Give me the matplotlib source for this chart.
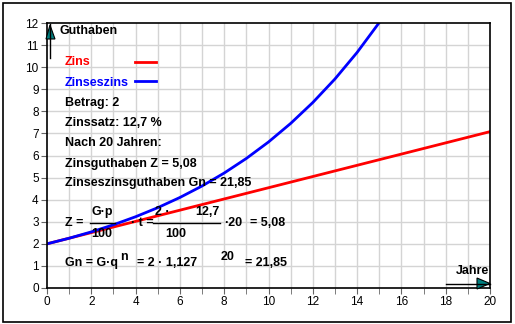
import matplotlib
matplotlib.use("Agg")
import matplotlib.pyplot as plt
from matplotlib.patches import Polygon, Rectangle
from matplotlib.lines import Line2D

# Zinsrechnung: Betrag 2, Zinssatz 12,7 %
jahre = [0, 1, 2, 3, 4, 5, 6, 7, 8, 9, 10, 11, 12, 13, 14, 15, 16, 17, 18, 19, 20]
zins = [2.0, 2.254, 2.508, 2.762, 3.016, 3.27, 3.524, 3.778, 4.032, 4.286, 4.54,
        4.794, 5.048, 5.302, 5.556, 5.81, 6.064, 6.318, 6.572, 6.826, 7.08]
jahre_zz = [0, 1, 2, 3, 4, 5, 6, 7, 8, 9, 10, 11, 12, 13, 14, 15]
zinseszins = [2.0, 2.254, 2.540, 2.863, 3.227, 3.637, 4.099, 4.619, 5.206, 5.867,
              6.612, 7.452, 8.399, 9.465, 10.667, 12.02]

W, H = 515, 324
fig = plt.figure(figsize=(W / 100, H / 100), dpi=100)
fig.patch.set_facecolor("white")


def p(x, y):
    return (x / W, 1 - y / H)


# outer frame
fig.add_artist(Rectangle(p(2.5, 321.5), 508 / W, 319 / H, fill=False,
                         edgecolor="black", lw=1.2, transform=fig.transFigure))

ax = fig.add_axes([47 / W, 36 / H, 443 / W, 265 / H])
ax.set_xlim(0, 20)
ax.set_ylim(0, 12)
ax.set_xticks(range(0, 21, 2))
ax.set_xticks(range(0, 21), minor=True)
ax.set_yticks(range(0, 13))
for v in range(1, 20):
    ax.axvline(v, color="#d4d4d4", lw=1, zorder=0)
for v in range(1, 12):
    ax.axhline(v, color="#d4d4d4", lw=1, zorder=0)
for s in ax.spines.values():
    s.set_color("black")
    s.set_linewidth(1.2)
ax.tick_params(which="both", length=4, color="#666666", labelsize=8.5, pad=2)
for lab in ax.get_xticklabels() + ax.get_yticklabels():
    lab.set_family("Liberation Sans")

ax.plot(jahre, zins, color="red", lw=2, clip_on=True)
ax.plot(jahre_zz, zinseszins, color="blue", lw=2, clip_on=True)

# axis arrows
teal = "#008080"
fig.add_artist(Line2D([49.5 / W, 49.5 / W], [p(0, 58)[1], p(0, 24)[1]],
                      color="black", lw=1, transform=fig.transFigure))
fig.add_artist(Polygon([p(46, 39), p(55, 39), p(50, 25)], closed=True,
                       facecolor=teal, edgecolor="black", lw=0.8,
                       transform=fig.transFigure))
fig.add_artist(Line2D([446 / W, 490 / W], [p(0, 283.5)[1]] * 2,
                      color="black", lw=1, transform=fig.transFigure))
fig.add_artist(Polygon([p(477, 278), p(477, 289), p(490, 283.5)], closed=True,
                       facecolor=teal, edgecolor="black", lw=0.8,
                       transform=fig.transFigure))

bold = dict(family="Liberation Sans", fontsize=9, fontweight="bold",
            va="center", transform=fig.transFigure)


def t(x, y, s, **kw):
    opts = dict(bold)
    opts.update(kw)
    fig.text(*p(x, y), s, **opts)


t(60, 31, "Guthaben")
t(456, 271, "Jahre")

t(65, 62, "Zins", color="red")
fig.add_artist(Line2D([135 / W, 156 / W], [p(0, 62)[1]] * 2, color="red",
                      lw=2, transform=fig.transFigure))
t(65, 83, "Zinseszins", color="blue")
fig.add_artist(Line2D([135 / W, 156 / W], [p(0, 81)[1]] * 2, color="blue",
                      lw=2, transform=fig.transFigure))
t(65, 103, "Betrag: 2")
t(65, 123, "Zinssatz: 12,7 %")
t(65, 143, "Nach 20 Jahren:")
t(65, 164, "Zinsguthaben Z = 5,08")
t(65, 183, "Zinseszinsguthaben Gn = 21,85")

# Formel Zins
t(65, 223, "Z =")
t(102, 212, "G·p", ha="center")
fig.add_artist(Line2D([90 / W, 115 / W], [p(0, 223)[1]] * 2, color="black",
                      lw=1, transform=fig.transFigure))
t(102, 234, "100", ha="center")
t(131, 223, "· t =")
t(155, 212, "2 ·")
t(207, 212, "12,7", ha="center")
fig.add_artist(Line2D([153 / W, 220 / W], [p(0, 223)[1]] * 2, color="black",
                      lw=1, transform=fig.transFigure))
t(176, 234, "100", ha="center")
t(224, 223, "·20")
t(250, 223, "= 5,08")

# Formel Zinseszins
t(65, 263, "Gn = G·q")
t(120, 257, "n")
t(137, 263, "= 2 · 1,127")
t(221, 257, "20")
t(245, 263, "= 21,85")

fig.savefig("out.png", dpi=100)
